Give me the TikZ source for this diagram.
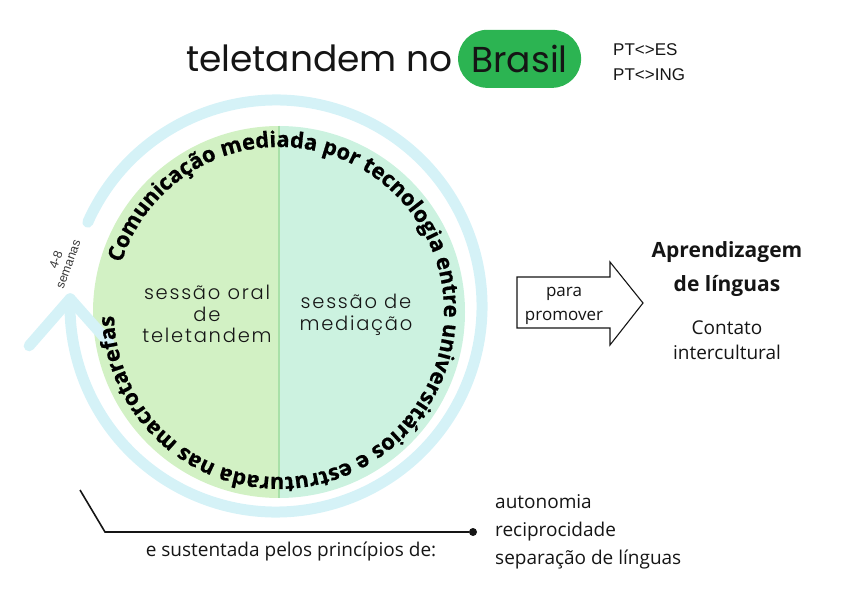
\documentclass[tikz,border=0pt]{standalone}
\usepackage{fontspec}
\setmainfont{Open Sans}
\newfontfamily\titlefont{Poppins}
\newfontfamily\sessionfont{Poppins Light}[LetterSpace=9]
\newfontfamily\smallfont{Liberation Sans}
\newfontfamily\arcfamily{Open Sans}[BoldFeatures={FakeBold=0.7}]
\usetikzlibrary{positioning,decorations.text}
\definecolor{ink}{HTML}{151515}
\definecolor{ringblue}{HTML}{D5F2F7}
\definecolor{oralgreen}{HTML}{D2F1C4}
\definecolor{mediagreen}{HTML}{CCF2E0}
\definecolor{splitgreen}{HTML}{A8E0A8}
\definecolor{brasilgreen}{HTML}{2CB452}
\newcommand{\arcfont}{\arcfamily\fontsize{21.8}{21.8}\selectfont\bfseries}

\begin{document}
\begin{tikzpicture}[x=1pt, y=1pt,
  ring/.style={draw=ringblue, line width=11pt, line cap=round, line join=round},
  session/.style={font=\sessionfont\fontsize{19.5}{21.5}\selectfont, text=ink, align=center},
  caption/.style={font=\fontsize{19}{28}\selectfont, text=ink, inner sep=0pt},
  headline/.style={font=\bfseries\fontsize{21}{34}\selectfont, text=ink, align=center, inner sep=0pt},
  pill/.style={fill=brasilgreen, rounded corners=29pt, minimum width=123pt, minimum height=58pt,
               font=\titlefont\fontsize{36}{36}\selectfont, text=ink, inner sep=0pt},
  blockarrow/.style={draw=ink, fill=white, line width=1.1pt, line join=miter},
  bracket/.style={draw=ink, line width=1.6pt},
  dot/.style={circle, fill=ink, minimum size=8pt, inner sep=0pt}
]
\useasboundingbox (0,0) rectangle (860,606);

% title
\node[anchor=base west, inner sep=0pt, font=\titlefont\fontsize{36}{36}\selectfont, text=ink]
  (title) at (186,534) {teletandem no};
\node[pill, right=5pt of title] (brasil) {Brasil};
\node[anchor=west, align=left, inner sep=0pt, font=\smallfont\fontsize{17}{25}\selectfont, text=ink]
  (pairs) at (613,544) {PT<>ES\\PT<>ING};

% the two sessions
\coordinate (c) at (279,294);
\coordinate (r) at (276,300);
\fill[oralgreen] (c) ++(90:186) arc[start angle=90, end angle=270, radius=186] -- cycle;
\fill[mediagreen] (c) ++(90:186) arc[start angle=90, end angle=-90, radius=186] -- cycle;
\draw[splitgreen, line width=1.3pt] (c) ++(90:186) -- ++(0,-372);

\draw[ring] (r) ++(156:206) arc[start angle=156, end angle=-182, radius=206] coordinate (tip);
\draw[ring] (tip) ++(-41,-47) -- (tip) -- ++(39,-44);

\path[decorate, decoration={text along path, text align=center,
  text={|\arcfont|Comunicação mediada por tecnologia entre universitários e estruturada nas macrotarefas}}]
  (c) ++(172:165) arc[start angle=172, end angle=-188, radius=165];

\node[session] (oral) at (207,292) {sessão oral\\de\\teletandem};
\node[session] (mediation) at (356,291) {sessão de\\mediação};
\node[rotate=70, align=center, inner sep=0pt, font=\smallfont\fontsize{12.5}{13}\selectfont, text=ink!85]
  (weeks) at (62,344) {4-8\\semanas};

% para promover
\draw[blockarrow] (517,329) -- (610,329) -- (610,344) -- (643,303) -- (610,261) -- (610,278)
  -- (517,278) -- cycle;
\node[caption, align=center, font=\fontsize{17}{24}\selectfont] (promote) at (564,300) {para\\promover};

\node[headline] (learning) at (727,337) {Aprendizagem\\de línguas};
\node[caption, align=center, font=\fontsize{19}{25}\selectfont] (contact) at (727,266) {Contato\\intercultural};

% principles
\coordinate (hook) at (80,116);
\coordinate (corner) at (105,74);
\node[dot] (pin) at (473,74) {};
\draw[bracket] (hook) -- (corner) -- (pin);
\node[caption] (sustained) at (291,54) {e sustentada pelos princípios de:};
\node[caption, anchor=west, align=left] (principles) at (495,74) {autonomia\\reciprocidade\\separação de línguas};

\end{tikzpicture}
\end{document}
